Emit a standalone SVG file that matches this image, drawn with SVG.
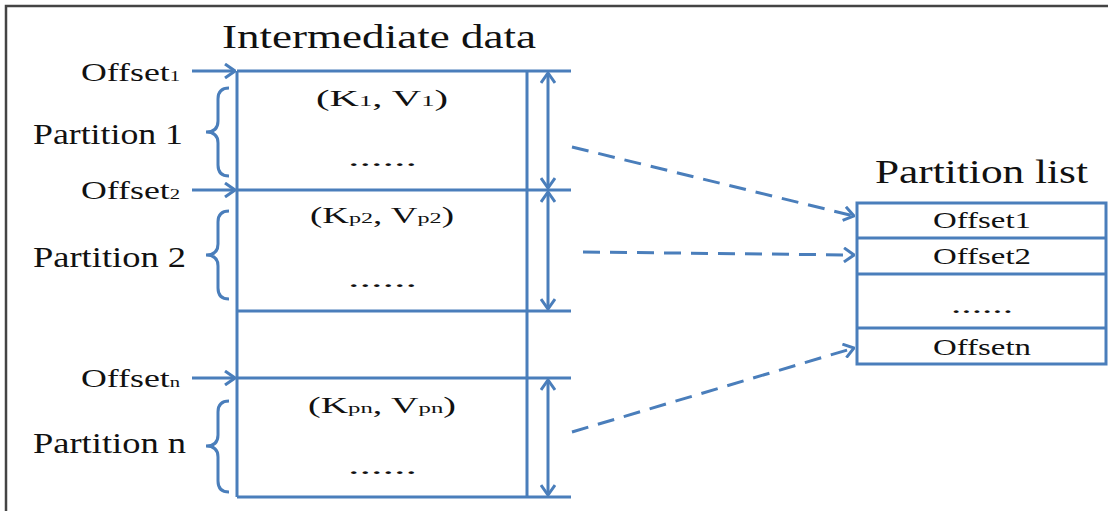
<svg xmlns="http://www.w3.org/2000/svg" width="1108" height="511" viewBox="0 0 1108 511">
<style>
.ln{stroke:#4A7EBB;stroke-width:3;fill:none}
.dash{stroke:#4A7EBB;stroke-width:3;fill:none;stroke-dasharray:17 10}
.t{font-family:"Liberation Serif","Times New Roman",serif;fill:#111}
.big{font-size:33px}
.lab{font-size:29px}
.off{font-size:26px}
.kv{font-size:23px}
.row{font-size:24px}
.sub{font-size:15px}
.subkv{font-size:15px}
</style>
<defs>
<marker id="ah" viewBox="0 0 12 16" markerWidth="12" markerHeight="16" refX="11" refY="8" orient="auto" markerUnits="userSpaceOnUse">
<path d="M1,1 L11,8 L1,15" fill="none" stroke="#4A7EBB" stroke-width="3" stroke-dasharray="none"/>
</marker>
<marker id="ahs" viewBox="0 0 12 16" markerWidth="12" markerHeight="16" refX="11" refY="8" orient="auto-start-reverse" markerUnits="userSpaceOnUse">
<path d="M1,1 L11,8 L1,15" fill="none" stroke="#4A7EBB" stroke-width="3"/>
</marker>
</defs>
<rect width="1108" height="511" fill="#fff"/>
<path d="M6,511 L6,6 L1108,6" fill="none" stroke="#444" stroke-width="2.5"/>

<text id="title-intermediate" class="t big" x="222" y="48" textLength="314" lengthAdjust="spacingAndGlyphs">Intermediate data</text>

<g id="intermediate-data">
<path class="ln" d="M237,71 L237,497 M527,71 L527,497 M237,71 L571,71 M237,190 L571,190 M237,311 L571,311 M237,378 L571,378 M237,497 L571,497"/>
</g>

<g id="partition1">
<text class="t kv" x="316" y="106" textLength="132" lengthAdjust="spacingAndGlyphs">(K<tspan class="subkv">1</tspan>, V<tspan class="subkv">1</tspan>)</text>
<text class="t kv" x="348" y="166" textLength="69" lengthAdjust="spacingAndGlyphs">......</text>
<text class="t lab" x="33" y="144" textLength="150" lengthAdjust="spacingAndGlyphs">Partition 1</text>
<path class="ln" d="M229,88 Q218,88 218,99 L218,121 Q218,132 206,132 Q218,132 218,143 L218,165 Q218,176 229,176"/>
<text class="t off" x="81" y="81" textLength="99" lengthAdjust="spacingAndGlyphs">Offset<tspan class="sub">1</tspan></text>
</g>

<g id="partition2">
<text class="t kv" x="310" y="223" textLength="144" lengthAdjust="spacingAndGlyphs">(K<tspan class="subkv">p2</tspan>, V<tspan class="subkv">p2</tspan>)</text>
<text class="t kv" x="348" y="287" textLength="69" lengthAdjust="spacingAndGlyphs">......</text>
<text class="t lab" x="33" y="267" textLength="153" lengthAdjust="spacingAndGlyphs">Partition 2</text>
<path class="ln" d="M229,211 Q218,211 218,222 L218,244 Q218,255 206,255 Q218,255 218,266 L218,288 Q218,299 229,299"/>
<text class="t off" x="81" y="199" textLength="99" lengthAdjust="spacingAndGlyphs">Offset<tspan class="sub">2</tspan></text>
</g>

<g id="partitionn">
<text class="t kv" x="308" y="413" textLength="148" lengthAdjust="spacingAndGlyphs">(K<tspan class="subkv">pn</tspan>, V<tspan class="subkv">pn</tspan>)</text>
<text class="t kv" x="348" y="474" textLength="69" lengthAdjust="spacingAndGlyphs">......</text>
<text class="t lab" x="33" y="453" textLength="153" lengthAdjust="spacingAndGlyphs">Partition n</text>
<path class="ln" d="M229,401 Q218,401 218,412 L218,435 Q218,446 206,446 Q218,446 218,457 L218,481 Q218,492 229,492"/>
<text class="t off" x="81" y="387" textLength="99" lengthAdjust="spacingAndGlyphs">Offset<tspan class="sub">n</tspan></text>
</g>

<text id="title-partition-list" class="t big" x="875" y="183" textLength="213" lengthAdjust="spacingAndGlyphs">Partition list</text>

<g id="partition-list">
<rect class="ln" x="857" y="203" width="249" height="161"/>
<path class="ln" d="M857,238 L1106,238 M857,274 L1106,274 M857,328 L1106,328"/>
<text class="t row" x="982" y="228" text-anchor="middle" textLength="98" lengthAdjust="spacingAndGlyphs">Offset1</text>
<text class="t row" x="982" y="264" text-anchor="middle" textLength="98" lengthAdjust="spacingAndGlyphs">Offset2</text>
<text class="t row" x="982" y="313" text-anchor="middle" textLength="62" lengthAdjust="spacingAndGlyphs">......</text>
<text class="t row" x="982" y="355" text-anchor="middle" textLength="98" lengthAdjust="spacingAndGlyphs">Offsetn</text>
</g>

<g id="connectors">
<line class="ln" x1="192" y1="71" x2="235" y2="71" marker-end="url(#ah)"/>
<line class="ln" x1="192" y1="190" x2="235" y2="190" marker-end="url(#ah)"/>
<line class="ln" x1="192" y1="378" x2="235" y2="378" marker-end="url(#ah)"/>
<line class="ln" x1="548" y1="73" x2="548" y2="188" marker-start="url(#ahs)" marker-end="url(#ahs)"/>
<line class="ln" x1="548" y1="192" x2="548" y2="309" marker-start="url(#ahs)" marker-end="url(#ahs)"/>
<line class="ln" x1="548" y1="380" x2="548" y2="495" marker-start="url(#ahs)" marker-end="url(#ahs)"/>
<line class="dash" x1="572" y1="147" x2="854" y2="216" marker-end="url(#ah)"/>
<line class="dash" x1="583" y1="252" x2="854" y2="255" marker-end="url(#ah)"/>
<line class="dash" x1="572" y1="432" x2="854" y2="348" marker-end="url(#ah)"/>
</g>
</svg>
